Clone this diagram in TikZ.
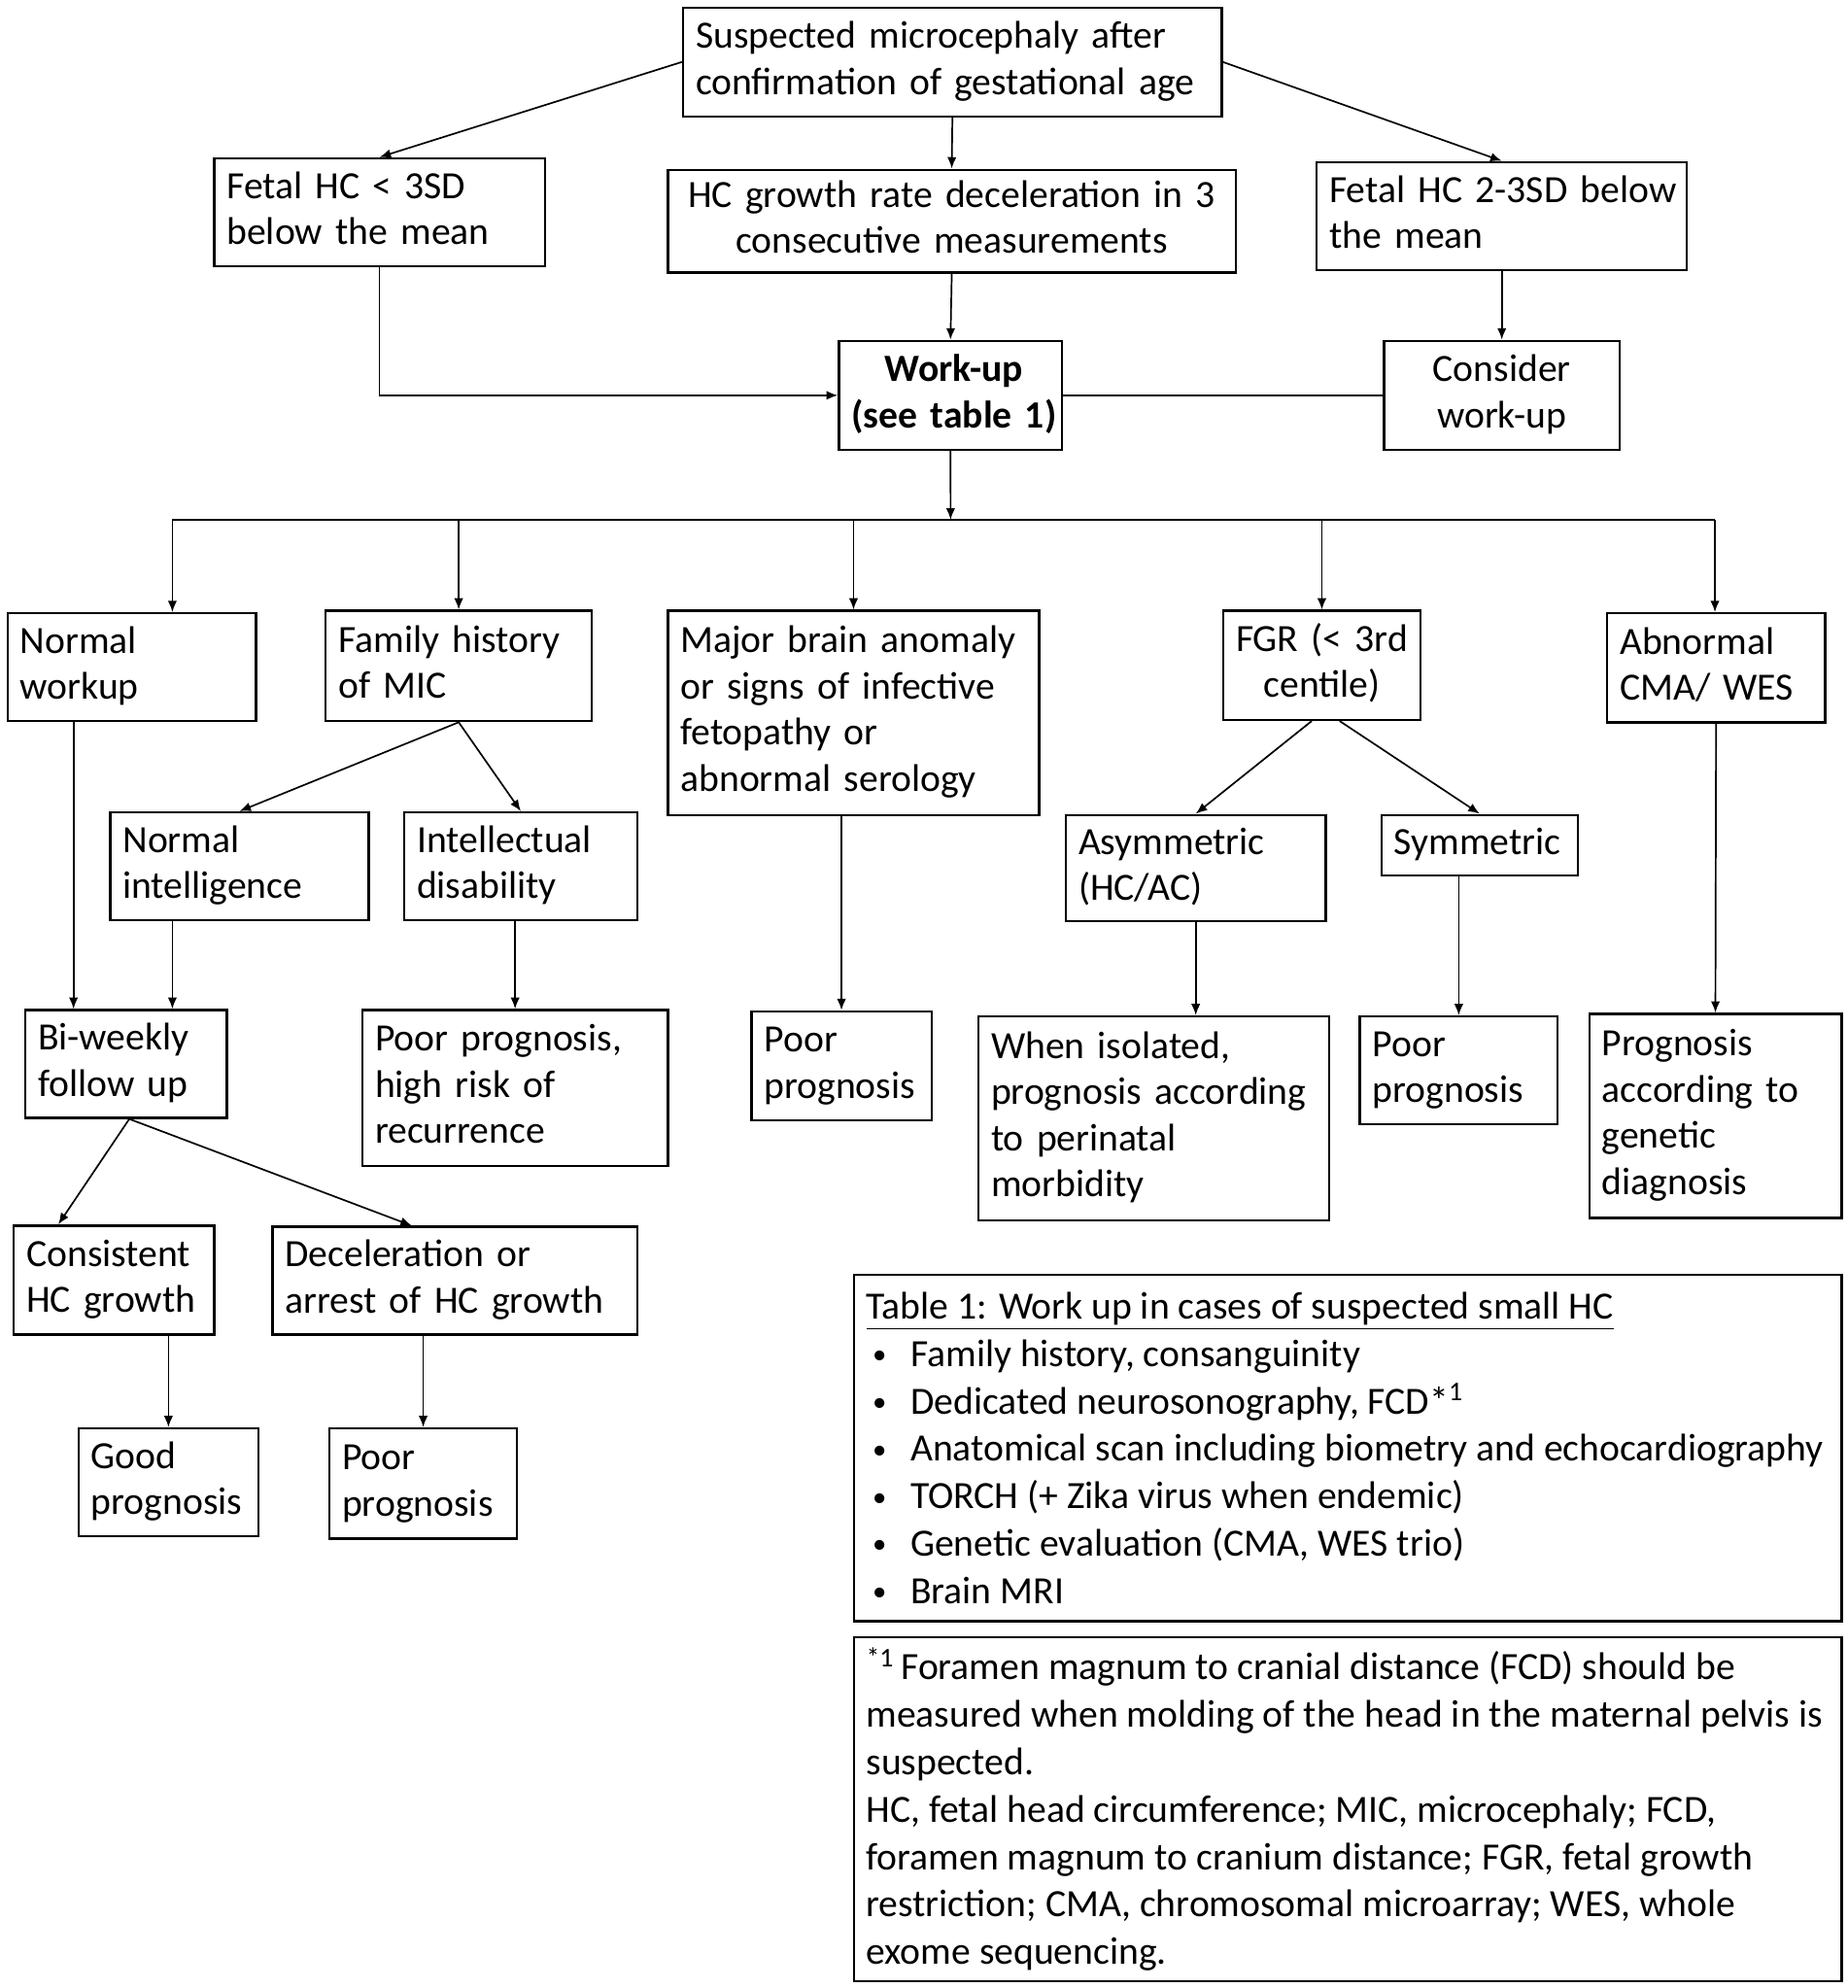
\documentclass[tikz,border=0pt]{standalone}
\usepackage{fontspec}
\setmainfont{Carlito}
\usetikzlibrary{arrows.meta}
\tikzset{
  box/.style={draw, line width=0.9pt, inner xsep=5pt, inner ysep=0pt,
    font=\fontsize{15.2}{18.2}\selectfont, align=left},
  cbox/.style={box, align=center},
  bbox/.style={cbox, font=\fontsize{15.2}{18.2}\selectfont\bfseries},
  arr/.style={line width=0.65pt, -{Latex[length=4.5pt,width=3.6pt]}},
  ln/.style={line width=0.65pt},
  tabbox/.style={draw, line width=0.9pt, anchor=north west, inner sep=0pt},
  tabtext/.style={anchor=west, align=left, inner sep=0pt, font=\fontsize{15.2}{18.7}\selectfont},
}
\newcommand\mkgen[8]{%
  \pgfmathsetmacro\bw{(#5-#3)*0.5}%
  \pgfmathsetmacro\bh{(#6-#4)*0.5}%
  \pgfmathsetmacro\tw{\bw-10}%
  \node[box,anchor=north west,minimum width=\bw pt,minimum height=\bh pt,text width=\tw pt,#1] (#2) at (#3,#4) {\begin{tabular}{@{}#8@{}}#7\end{tabular}};}
\newcommand\mkbox[7][]{\mkgen{#1}{#2}{#3}{#4}{#5}{#6}{#7}{l}}
\newcommand\mkcbox[7][]{\mkgen{cbox,#1}{#2}{#3}{#4}{#5}{#6}{#7}{c}}
\newcommand\itm{\makebox[17.5pt][l]{\hspace{2.5pt}\raisebox{1pt}{\fontsize{11}{11}\selectfont\textbullet}}}
\begin{document}
\begin{tikzpicture}[x=0.5pt,y=-0.5pt]
\useasboundingbox (0,0) rectangle (1458,1568.4);
% boxes
\mkbox{top}{538}{5}{963}{91}{Suspected microcephaly after\\confirmation of gestational age}
\mkbox{fhc}{168}{124}{429}{209}{Fetal HC < 3SD\\below the mean}
\mkcbox{rate}{526}{133}{974}{214}{HC growth rate deceleration in 3\\consecutive measurements}
\mkbox{fhc2}{1038}{127}{1330}{212}{Fetal HC 2-3SD below\\the mean}
\mkcbox[bbox]{work}{661}{268}{837}{354}{Work-up\\(see table 1)}
\mkcbox{cons}{1091}{268}{1277}{354}{Consider\\work-up}
\mkbox{nw}{5}{483}{201}{568}{Normal\\workup}
\mkbox{fam}{256}{481}{466}{568}{Family history\\of MIC}
\mkbox{maj}{526}{481}{819}{642}{Major brain anomaly\\or signs of infective\\fetopathy or\\abnormal serology}
\mkcbox{fgr}{964}{481}{1120}{567}{FGR (< 3rd\\centile)}
\mkbox{abn}{1267}{483}{1439}{569}{Abnormal\\CMA/ WES}
\mkbox{ni}{86}{640}{290}{725}{Normal\\intelligence}
\mkbox{id}{318}{640}{502}{725}{Intellectual\\disability}
\mkbox{pp1}{592}{797}{734}{883}{Poor\\prognosis}
\mkbox{asy}{840}{642}{1045}{726}{Asymmetric\\(HC/AC)}
\mkbox{sym}{1089}{642}{1244}{690}{Symmetric}
\mkbox{wi}{771}{801}{1048}{962}{When isolated,\\prognosis according\\to perinatal\\morbidity}
\mkbox{pp2}{1072}{801}{1228}{886}{Poor\\prognosis}
\mkbox{gd}{1253}{799}{1452}{960}{Prognosis\\according to\\genetic\\diagnosis}
\mkbox{bw}{19}{796}{178}{881}{Bi-weekly\\follow up}
\mkbox{prh}{285}{796}{526}{919}{Poor prognosis,\\high risk of\\recurrence}
\mkbox{chc}{10}{966}{168}{1052}{Consistent\\HC growth}
\mkbox{dec}{214}{967}{502}{1052}{Deceleration or\\arrest of HC growth}
\mkbox{good}{61}{1126}{203}{1211}{Good\\prognosis}
\mkbox{pp3}{259}{1126}{407}{1213}{Poor\\prognosis}
% connectors
\draw[arr] (top.west) -- (fhc.north);
\draw[arr] (top.south) -- (rate.north);
\draw[arr] (top.east) -- (fhc2.north);
\draw[arr] (fhc.south) |- (work.west);
\draw[arr] (rate.south) -- (work.north);
\draw[arr] (fhc2.south) -- (cons.north);
\draw[ln] (cons.west) -- (work.east);
\coordinate (bus) at (750,410);
\coordinate (busL) at (136,410);
\coordinate (busR) at (1353,410);
\draw[arr] (work.south) -- (bus);
\draw[ln] (busL) -- (busR);
\draw[arr] (busL) -- (busL |- nw.north);
\draw[arr] (bus -| fam.north) -- (fam.north);
\draw[arr] (bus -| maj.north) -- (maj.north);
\draw[arr] (bus -| fgr.north) -- (fgr.north);
\draw[arr] (busR) -- (busR |- abn.north);
\draw[arr] (fam.south) -- (ni.north);
\draw[arr] (fam.south) -- (id.north);
\draw[arr] (pp1.north |- maj.south) -- (pp1.north);
\draw[arr] ([xshift=-4pt]fgr.south) -- (asy.north);
\draw[arr] ([xshift=7pt]fgr.south) -- (sym.north);
\draw[arr] (asy.south) -- (asy.south |- wi.north);
\draw[arr] (pp2.north |- sym.south) -- (pp2.north);
\draw[arr] (abn.south) -- (gd.north);
\coordinate (xa) at (58,0);
\coordinate (xb) at (136,0);
\coordinate (xc) at (102,0);
\coordinate (xd) at (46,0);
\coordinate (xe) at (325,0);
\draw[arr] (nw.south -| xa) -- (bw.north -| xa);
\draw[arr] (ni.south -| xb) -- (bw.north -| xb);
\draw[arr] (prh.north |- id.south) -- (prh.north);
\draw[arr] (bw.south -| xc) -- (chc.north -| xd);
\draw[arr] (bw.south -| xc) -- (dec.north -| xe);
\draw[arr] (good.north |- chc.south) -- (good.north);
\draw[arr] (pp3.north |- dec.south) -- (pp3.north);
% table
\node[tabbox, minimum width=389.5pt, minimum height=136.5pt] (tab) at (673,1005) {};
\node[tabtext] (tabtxt) at ([xshift=5pt]tab.west) {\underline{Table 1: Work up in cases of suspected small HC}\\
\itm Family history, consanguinity\\
\itm Dedicated neurosonography, FCD*\textsuperscript{1}\\
\itm Anatomical scan including biometry and echocardiography\\
\itm TORCH (+ Zika virus when endemic)\\
\itm Genetic evaluation (CMA, WES trio)\\
\itm Brain MRI};
\node[tabbox, minimum width=389.5pt, minimum height=135.5pt] (foot) at (673,1291) {};
\node[tabtext] (foottxt) at ([xshift=5pt]foot.west) {\textsuperscript{*1}\,Foramen magnum to cranial distance (FCD) should be\\
measured when molding of the head in the maternal pelvis is\\
suspected.\\
HC, fetal head circumference; MIC, microcephaly; FCD,\\
foramen magnum to cranium distance; FGR, fetal growth\\
restriction; CMA, chromosomal microarray; WES, whole\\
exome sequencing.};
\end{tikzpicture}
\end{document}
